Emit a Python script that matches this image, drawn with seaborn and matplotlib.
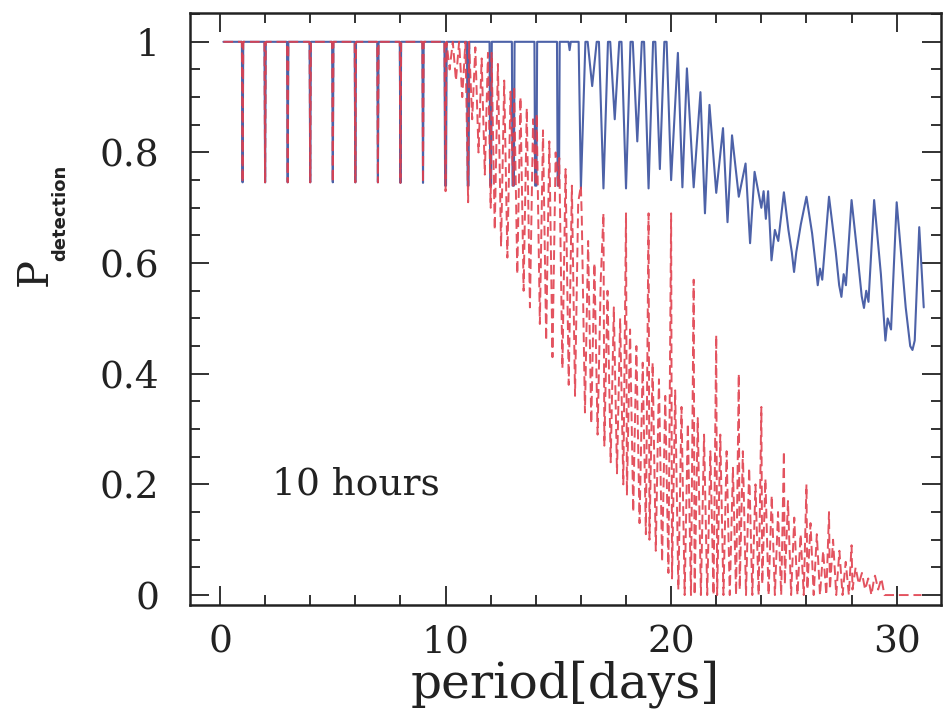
import numpy as np
import pandas as pd
import matplotlib
matplotlib.use("Agg")
import matplotlib.pyplot as plt
import seaborn as sns
from matplotlib.ticker import MultipleLocator, FixedLocator, FixedFormatter

# ---------------- data ----------------
# Both curves: flat at 1 with narrow aliasing dips at integer periods (1..9 d)
early_start_period = 0.15
early_dip_day = [1, 2, 3, 4, 5, 6, 7, 8, 9]
early_dip_prob = [0.746, 0.746, 0.746, 0.746, 0.746, 0.746, 0.746, 0.745, 0.745]
early_dip_halfwidth = 0.03

# Blue (solid) curve beyond 10 days
blue_period_late = [
    9.95, 9.98, 10.02, 10.05, 10.95, 10.98, 11.02, 11.05,
    11.95, 11.98, 12.02, 12.05, 12.94, 12.97, 13.03, 13.06,
    13.94, 13.97, 14.03, 14.06, 14.94, 14.97, 15.03, 15.06,
    15.45, 15.5, 15.55, 15.9, 16.0, 16.2, 16.3, 16.5, 16.7, 16.8,
    17.0, 17.2, 17.3, 17.5, 17.7, 17.8, 18.0, 18.2, 18.3, 18.5, 18.7, 18.8,
    19.0, 19.2, 19.3, 19.5, 19.7, 19.8, 20.0,
    20.3, 20.5, 20.7, 21.0, 21.3, 21.5, 21.7, 22.0, 22.3, 22.5, 22.7, 23.0,
    23.3, 23.5, 23.7, 24.0, 24.1, 24.2, 24.3, 24.45, 24.6, 24.75,
    25.0, 25.2, 25.35, 25.45, 25.55, 25.75, 26.0, 26.25, 26.4, 26.5, 26.6, 26.7,
    27.0, 27.3, 27.45, 27.55, 27.65, 27.75, 28.0, 28.3, 28.45, 28.55, 28.65, 28.75,
    29.0, 29.3, 29.5, 29.6, 29.75, 30.0, 30.4, 30.6, 30.7, 30.8, 31.0, 31.2]
blue_prob_late = [
    1.0, 0.74, 0.74, 1.0, 1.0, 0.74, 0.74, 1.0,
    1.0, 0.74, 0.74, 1.0, 1.0, 0.74, 0.74, 1.0,
    1.0, 0.74, 0.74, 1.0, 1.0, 0.74, 0.74, 1.0,
    1.0, 0.985, 1.0, 1.0, 0.735, 1.0, 1.0, 0.92, 1.0, 1.0,
    0.735, 1.0, 1.0, 0.86, 1.0, 1.0, 0.735, 1.0, 1.0, 0.82, 1.0, 1.0,
    0.735, 1.0, 1.0, 0.77, 1.0, 1.0, 0.75,
    0.98, 0.737, 0.952, 0.737, 0.909, 0.69, 0.886, 0.727, 0.844, 0.674, 0.831, 0.72,
    0.78, 0.636, 0.765, 0.70, 0.73, 0.68, 0.73, 0.605, 0.66, 0.64,
    0.728, 0.66, 0.62, 0.584, 0.62, 0.67, 0.72, 0.654, 0.60, 0.56, 0.59, 0.57,
    0.72, 0.62, 0.56, 0.539, 0.58, 0.56, 0.714, 0.60, 0.54, 0.519, 0.55, 0.53,
    0.714, 0.58, 0.46, 0.50, 0.48, 0.71, 0.52, 0.45, 0.443, 0.46, 0.665, 0.52]

# Red (dashed) curve beyond 10 days: per-day samples at fixed sub-day phases
red_rejoin_period = 9.95
red_rejoin_prob = 1.0
red_day = [10, 11, 12, 13, 14, 15, 16, 17, 18, 19, 20,
           21, 22, 23, 24, 25, 26, 27, 28, 29, 30]
red_sub_phase = [0.0, 0.04, 0.18, 0.32, 0.46, 0.60, 0.74, 0.88]
red_prob_late = [
    0.73, 1.00, 0.95, 1.00, 0.93, 1.00, 0.90, 1.00,   # 10
    0.71, 1.00, 0.86, 0.99, 0.80, 0.97, 0.76, 0.98,   # 11
    0.70, 0.98, 0.66, 0.96, 0.63, 0.93, 0.61, 0.91,   # 12
    0.74, 0.92, 0.58, 0.90, 0.55, 0.88, 0.52, 0.86,   # 13
    0.74, 0.87, 0.49, 0.84, 0.46, 0.82, 0.43, 0.80,   # 14
    0.74, 0.79, 0.41, 0.77, 0.38, 0.74, 0.36, 0.71,   # 15
    0.74, 0.68, 0.33, 0.64, 0.31, 0.60, 0.29, 0.57,   # 16
    0.69, 0.27, 0.55, 0.24, 0.52, 0.22, 0.50, 0.20,   # 17
    0.69, 0.18, 0.48, 0.15, 0.45, 0.13, 0.42, 0.11,   # 18
    0.69, 0.10, 0.42, 0.08, 0.39, 0.06, 0.36, 0.04,   # 19
    0.69, 0.03, 0.37, 0.01, 0.34, 0.00, 0.31, 0.00,   # 20
    0.57, 0.00, 0.32, 0.00, 0.29, 0.00, 0.26, 0.00,   # 21
    0.47, 0.00, 0.29, 0.00, 0.26, 0.00, 0.23, 0.00,   # 22
    0.40, 0.01, 0.26, 0.00, 0.23, 0.00, 0.20, 0.00,   # 23
    0.34, 0.02, 0.21, 0.00, 0.18, 0.00, 0.15, 0.00,   # 24
    0.26, 0.02, 0.17, 0.00, 0.14, 0.00, 0.11, 0.00,   # 25
    0.20, 0.01, 0.13, 0.00, 0.11, 0.00, 0.08, 0.00,   # 26
    0.15, 0.01, 0.10, 0.00, 0.08, 0.00, 0.06, 0.00,   # 27
    0.09, 0.01, 0.05, 0.02, 0.04, 0.01, 0.03, 0.00,   # 28
    0.03, 0.035, 0.01, 0.03, 0.00, 0.00, 0.00, 0.00,  # 29
    0.00, 0.00, 0.00, 0.00, 0.00, 0.00, 0.00, 0.00]   # 30
red_end_period = 31.1
red_end_prob = 0.0

x_ticks = [0, 10, 20, 30]
y_ticks = [0, 0.2, 0.4, 0.6, 0.8, 1.0]
y_tick_labels = ["0", "0.2", "0.4", "0.6", "0.8", "1"]
annotation = "10 hours"

# ---------------- assemble series ----------------
early_x = [early_start_period]
early_y = [1.0]
for d, p in zip(early_dip_day, early_dip_prob):
    early_x += [d - early_dip_halfwidth, d, d + early_dip_halfwidth]
    early_y += [1.0, p, 1.0]

blue_x = early_x + blue_period_late
blue_y = early_y + blue_prob_late

red_x_late = ([red_rejoin_period]
              + [d + ph for d in red_day for ph in red_sub_phase]
              + [red_end_period])
red_y_late = [red_rejoin_prob] + red_prob_late + [red_end_prob]
red_x = early_x + red_x_late
red_y = early_y + red_y_late

blue_df = pd.DataFrame({"period": blue_x, "prob": blue_y})
red_df = pd.DataFrame({"period": red_x, "prob": red_y})

# ---------------- plot ----------------
sns.set_theme(style="white")
plt.rcParams["font.family"] = ["DejaVu Serif", "DejaVu Sans"]

fig = plt.figure(figsize=(9.43, 7.25), dpi=100)
ax = fig.add_axes([0.2015, 0.1655, 0.7965, 0.8165])

sns.lineplot(data=blue_df, x="period", y="prob", ax=ax, sort=False,
             estimator=None, color="#4d62a8", linewidth=1.5)
sns.lineplot(data=red_df, x="period", y="prob", ax=ax, sort=False,
             estimator=None, color="#e0404e", linewidth=1.4, alpha=0.9,
             linestyle=(0, (5, 2.5)))

ax.set_xlim(-1.33, 31.97)
ax.set_ylim(-0.018, 1.052)

ax.xaxis.set_major_locator(FixedLocator(x_ticks))
ax.xaxis.set_minor_locator(MultipleLocator(2))
ax.yaxis.set_major_locator(FixedLocator(y_ticks))
ax.yaxis.set_major_formatter(FixedFormatter(y_tick_labels))
ax.yaxis.set_minor_locator(MultipleLocator(0.05))

ax.tick_params(which="both", direction="in", top=True, right=True,
               bottom=True, left=True, color="#222222", width=1.3)
ax.tick_params(which="major", length=14)
ax.tick_params(which="minor", length=7)
ax.tick_params(axis="y", which="major", pad=22, labelsize=27, labelcolor="#222222")
ax.tick_params(axis="x", which="major", pad=14, labelsize=27, labelcolor="#222222")

for sp in ax.spines.values():
    sp.set_visible(True)
    sp.set_color("#222222")
    sp.set_linewidth(1.8)

ax.set_xlabel("period[days]", fontsize=35, color="#222222", labelpad=0,
              family="DejaVu Serif")
ax.set_ylabel("")

fig.text(35 / 943, 1 - 272 / 725, "P", rotation=90, ha="center", va="center",
         fontsize=30, color="#222222", family="DejaVu Serif")
fig.text(60 / 943, 1 - 213 / 725, "detection", rotation=90, ha="center",
         va="center", fontsize=13, fontweight="bold", color="#222222",
         family="DejaVu Sans")

ax.text(2.3, 0.2, annotation, fontsize=27, color="#222222",
        family="DejaVu Serif", ha="left", va="center")

fig.savefig("out.png", dpi=100)
